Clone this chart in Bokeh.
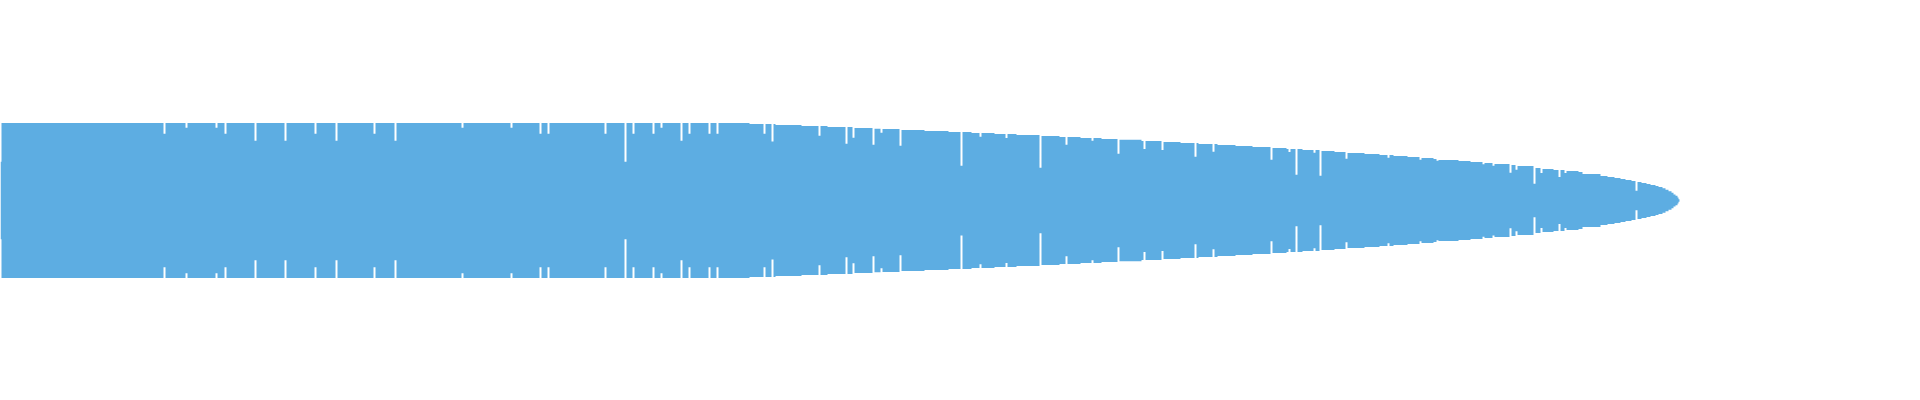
from bokeh.plotting import figure
from bokeh.models import Range1d
from bokeh.embed import file_html
from bokeh.resources import INLINE
import numpy as np

# rank position where each step starts, and its half-width value (100 = widest)
rank_start = [
    0, 1, 163, 165, 185, 187, 215, 217, 224, 226, 254, 256, 284, 286, 314, 316,
    335, 337, 373, 375, 394, 396, 461, 463, 510, 512, 539, 541, 547, 549, 604, 606,
    624, 626, 632, 634, 652, 654, 660, 662, 680, 682, 688, 690, 708, 710, 716, 718,
    749, 763, 765, 771, 773, 775, 801, 818, 820, 827, 845, 847, 852, 854, 872, 874,
    880, 882, 899, 901, 924, 948, 960, 962, 971, 979, 981, 994, 1005, 1007, 1016,
    1039, 1041, 1059, 1065, 1067, 1080, 1091, 1093, 1101, 1117, 1119, 1141, 1143,
    1145, 1161, 1163, 1180, 1194, 1196, 1198, 1212, 1214, 1217, 1235, 1252, 1270,
    1272, 1286, 1288, 1290, 1295, 1297, 1302, 1313, 1315, 1319, 1321, 1334, 1345,
    1347, 1364, 1379, 1387, 1389, 1393, 1407, 1419, 1421, 1433, 1436, 1438, 1458,
    1470, 1482, 1484, 1492, 1494, 1509, 1511, 1515, 1517, 1533, 1535, 1540, 1542,
    1553, 1558, 1560, 1564, 1566, 1578, 1582, 1600, 1607, 1614, 1620, 1625, 1631,
    1635, 1637, 1641, 1646, 1650, 1655, 1658, 1662, 1665, 1668, 1671, 1673, 1675,
    1677, 1678, 1679,
]
half_value = [
    50, 100, 86, 100, 94, 100, 94, 100, 86, 100, 77, 100, 77, 100, 86, 100,
    77, 100, 86, 100, 77, 100, 94, 100, 94, 100, 86, 100, 86, 100, 86, 100,
    50, 100, 86, 100, 86, 100, 94, 100, 77, 100, 86, 100, 86, 100, 86, 100,
    98.7, 86, 98.7, 76, 98.7, 97.4, 96.1, 83.6, 96.1, 94.8, 73.3, 94.8, 81, 93.5, 72, 92.7,
    87.5, 92.3, 70.7, 91, 89.7, 88.4, 45, 88.4, 87.1, 82.3, 87.1, 85.8, 80.6, 85.8, 84.5,
    42.3, 83.2, 81.9, 72, 81.9, 80.6, 77, 80.6, 79.4, 60.4, 78.5, 76.8, 66.5,
    76.8, 65.2, 75.5, 74.2, 56.5, 74.2, 72.9, 63, 72.9, 71.6, 70.3, 69, 52.6,
    67.7, 66.5, 62.6, 66.5, 33.3, 66.5, 65.2, 61.7, 65.2, 32, 63.9, 62.6, 54,
    61.3, 60, 58.7, 55.2, 58.7, 57.4, 56.1, 52.6, 54.8, 53.5, 51.4, 52.3, 51,
    49.7, 46.7, 48.4, 45, 47.1, 35.9, 45.8, 39.7, 44.5, 21.7, 41.9, 35.5, 40.6,
    39.4, 30.3, 39.4, 35.5, 38, 36.8, 34.2, 31.6, 30.3, 29, 27.7, 26.5, 25.2,
    12.7, 23.9, 22.6, 21.3, 20, 18.7, 17.4, 15.7, 14, 11.8, 10, 7.7, 6,
    3.9, 1.7, 0,
]

W, H = 1904, 384
full_px = 77.5
k = 100 / full_px
top_px, bottom_px = 200, H - 200

p = figure(width=W, height=H, output_backend="svg", toolbar_location=None,
           x_axis_type=None, y_axis_type=None,
           x_range=Range1d(0, W), y_range=Range1d(-bottom_px * k, top_px * k),
           min_border=0, outline_line_color=None,
           background_fill_color="white", border_fill_color="white")
p.grid.visible = False

x = np.array(rank_start, dtype=float)
v = np.array(half_value, dtype=float)
p.varea_step(x=x, y1=v, y2=-v, step_mode="after", fill_color="#5DADE2")

open("out.html", "w").write(file_html(p, INLINE))
